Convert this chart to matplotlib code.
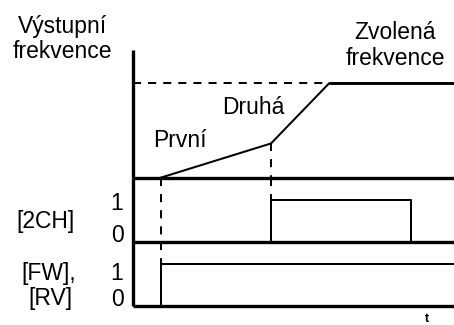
import matplotlib
matplotlib.use("Agg")
import matplotlib.pyplot as plt

plt.rcParams['font.family'] = ['Liberation Sans', 'DejaVu Sans']

# ---- data (time in arbitrary units) ----
T_MAX = 10.0
t_run = 0.88        # FW/RV switched on, first acceleration starts
t_2ch = 4.30        # 2CH switched on, second acceleration starts
t_target = 6.11     # selected frequency reached
t_2ch_off = 8.66    # 2CH switched off

freq_t = [t_run - 0.05, t_2ch, t_target, T_MAX]
freq_v = [0.0, 0.27, 0.74, 0.74]
target_freq = 0.74
knee_freq = 0.27

ch2_t = [0, t_2ch, t_2ch, t_2ch_off, t_2ch_off, T_MAX]
ch2_v = [0, 0, 1, 1, 0, 0]

fw_t = [t_run, t_run, T_MAX]
fw_v = [0, 1, 1]

W, H = 454, 325
fig = plt.figure(figsize=(W / 100, H / 100), dpi=100)

def ax_at(top_px, bot_px, left_px=133, right_px=454):
    return fig.add_axes([left_px / W, 1 - bot_px / H,
                         (right_px - left_px) / W, (bot_px - top_px) / H])

ax_f = ax_at(50, 178)
ax_c = ax_at(178, 242)
ax_w = ax_at(242, 306)

THICK = 2.4
THIN = 1.45
dash_h = (0, (4.0, 3.5))
dash_v = (0, (4.0, 4.0))

for ax in (ax_f, ax_c, ax_w):
    ax.set_xlim(0, T_MAX)
    ax.set_xticks([])
    ax.set_yticks([])
    ax.patch.set_alpha(0)
    for s in ('top', 'right'):
        ax.spines[s].set_visible(False)
    for s in ('left', 'bottom'):
        ax.spines[s].set_linewidth(THICK)
        ax.spines[s].set_capstyle('butt')

ax_f.set_ylim(0, 1)
ax_c.set_ylim(0, 1.52)
ax_w.set_ylim(0, 1.52)

# frequency panel
ax_f.plot([0, t_target], [target_freq, target_freq], color='black', lw=THIN, ls=dash_h)
ax_f.plot(freq_t, freq_v, color='black', lw=THIN, clip_on=False, solid_capstyle='butt')
ax_f.plot([t_target, T_MAX], [target_freq, target_freq], color='black', lw=THICK * 0.85,
          solid_capstyle='butt', clip_on=False)
ax_f.plot([t_2ch, t_2ch], [knee_freq, 0], color='black', lw=THIN, ls=dash_v)

# 2CH panel
ax_c.plot(ch2_t, ch2_v, color='black', lw=THIN, clip_on=False)
ax_c.plot([t_2ch, t_2ch], [1.52, 1], color='black', lw=THIN, ls=dash_v)
ax_c.plot([t_run, t_run], [1.52, 0], color='black', lw=THIN, ls=dash_v)

# FW/RV panel
ax_w.plot(fw_t, fw_v, color='black', lw=THIN, clip_on=False)
ax_w.plot([t_run, t_run], [1.52, 1], color='black', lw=THIN, ls=dash_v)

def label(x_px, y_px, s, size=16.5, ha='center', **kw):
    fig.text(x_px / W, 1 - y_px / H, s, ha=ha, va='baseline', fontsize=size,
             color='black', **kw)

label(62, 33, 'Výstupní')
label(62, 58, 'frekvence')
label(395, 39, 'Zvolená')
label(395, 65, 'frekvence')
label(253, 114, 'Druhá')
label(180, 147, 'První')
label(45, 228, '[2CH]')
label(117, 210, '1')
label(117, 242, '0')
label(49, 280, '[FW],')
label(50, 305, '[RV]')
label(117, 280, '1')
label(117, 306, '0')
label(427, 322, 't', size=9, fontweight='bold')

fig.savefig('out.png', dpi=100)
